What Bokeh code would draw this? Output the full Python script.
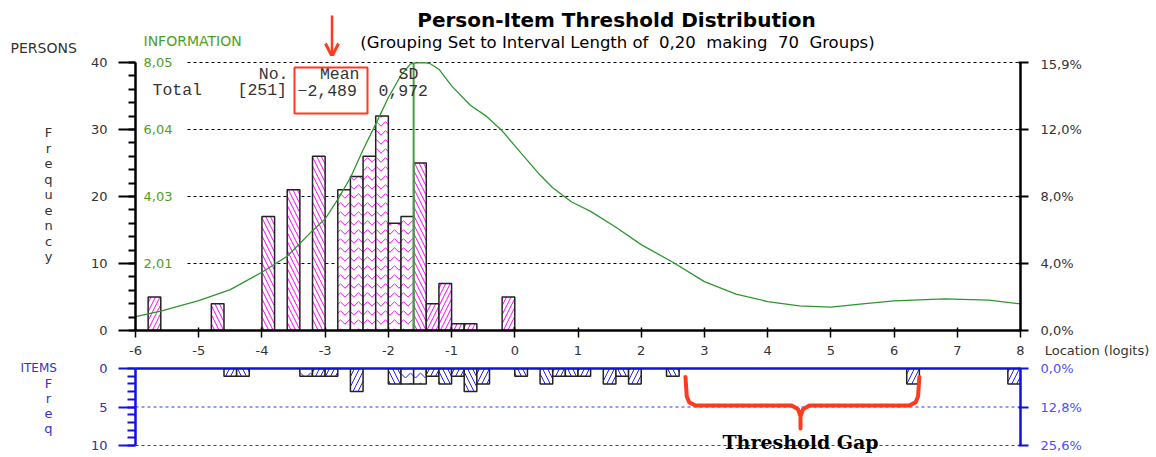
from bokeh.plotting import figure
from bokeh.models import (ColumnDataSource, Range1d, LinearAxis, FixedTicker,
                          BoxAnnotation, Arrow, OpenHead)
from bokeh.layouts import column, row
from bokeh.core.properties import value
from bokeh.embed import file_html
from bokeh.resources import INLINE

# ---------------- data ----------------
interval_length = 0.20
n_groups = 70
x_ticks = list(range(-6, 9))
x_title = "Location (logits)"

person_bin_left = [-5.8, -4.8, -4.0, -3.6, -3.2, -2.8, -2.6, -2.4, -2.2, -2.0,
                   -1.8, -1.6, -1.4, -1.2, -1.0, -0.8, -0.2]
person_counts = [5, 4, 17, 21, 26, 21, 23, 26, 32, 16, 17, 25, 4, 7, 1, 1, 5]
person_mean = -2.489
person_sd = 0.972

item_bin_left = [-4.6, -4.4, -3.4, -3.2, -3.0, -2.6, -2.0, -1.8, -1.6, -1.4,
                 -1.2, -1.0, -0.8, -0.6, 0.0, 0.4, 0.6, 0.8, 1.0, 1.4,
                 1.6, 1.8, 2.4, 6.2, 7.8]
item_counts = [1, 1, 1, 1, 1, 3, 2, 2, 2, 1, 2, 1, 3, 2, 1, 2, 1, 1, 1, 2,
               1, 2, 1, 2, 2]

info_x = [-6.0, -5.6, -5.0, -4.5, -4.0, -3.6, -3.2, -3.0, -2.8, -2.6, -2.4, -2.2,
          -2.0, -1.8, -1.65, -1.55, -1.45, -1.35, -1.2, -1.0, -0.7, -0.45, -0.2,
          0.1, 0.4, 0.6, 0.9, 1.2, 1.6, 2.0, 2.5, 3.0, 3.5, 4.0, 4.5, 5.0, 5.5,
          6.0, 6.8, 7.5, 8.0]
info_y = [0.42, 0.58, 0.90, 1.23, 1.75, 2.23, 3.00, 3.35, 3.94, 4.59, 5.43, 6.20,
          7.00, 7.67, 8.01, 8.04, 8.05, 8.03, 7.85, 7.35, 6.76, 6.44, 6.00,
          5.33, 4.67, 4.29, 3.86, 3.58, 3.10, 2.58, 2.05, 1.47, 1.09, 0.87, 0.74,
          0.70, 0.80, 0.89, 0.95, 0.91, 0.80]
info_max = 8.052
info_peak_location = -1.6

person_ticks = [0, 10, 20, 30, 40]
item_ticks = [0, 5, 10]

# threshold-gap annotation (logits)
gap_left, gap_right = 2.70, 6.40

# ---------------- styles ----------------
person_hatch = ["/", "\\", "\\", "\\", "\\", "v", "v", "v", "v", "v", "v", "\\",
                "/", "/", "/", "/", "/"]
item_hatch = ["/", "\\", "v", "/", "/", "/", "\\", "v", "v", "/", "\\", "/", "\\",
              "/", "\\", "\\", "/", "\\", "/", "/", "\\", "/", "\\", "/", "/"]

FONT = "DejaVu Sans"
MONO = "Liberation Mono"
DARK = "#333333"
GREEN_TXT = "#4f9e22"
GREEN = "#2f962f"
BLUE = "#1010e0"
ITEM_TXT = "#3333cc"
RED = "#ff3b1d"

# ---------------- layout constants (pixels) ----------------
W = 1156
FRAME_L, FRAME_R = 135, 1020
STRIP_W = 70
X_MIN, X_MAX = -6, 8
PX_PER_LOGIT = (FRAME_R - FRAME_L) / (X_MAX - X_MIN)

HEAD_H = 56                    # header band
P1_BASE = 330                  # pixel row of person count 0
PY1 = 6.7                      # px per person count
P1_BOT = 10
XLAB_H = 20
P2_TOP = 8
PY2 = 7.7                      # px per item count
H_TOTAL = 457

P1_H = P1_BASE + P1_BOT - HEAD_H
Y1_MAX = (P1_BASE - HEAD_H) / PY1
XLAB_Y0 = P1_BASE + P1_BOT
P2_Y0 = XLAB_Y0 + XLAB_H
P2_H = H_TOTAL - P2_Y0
Y2_BASE = P2_Y0 + P2_TOP
Y2_MAX = (H_TOTAL - Y2_BASE) / PY2


def lx(px):
    return X_MIN + (px - FRAME_L) / PX_PER_LOGIT


def ly1(py):
    return (P1_BASE - py) / PY1


def ly2(py):
    return (py - Y2_BASE) / PY2


def put_text(f, x, y, txt, size="13px", color=DARK, align="left", font=FONT,
             style="normal"):
    f.text(x=[x], y=[y], text=[txt], text_font=value(font), text_font_size=value(size),
           text_color=color, text_align=align, text_baseline="middle",
           text_font_style=style)


def text_fig(x0, x1, y0, y1):
    f = figure(width=x1 - x0, height=y1 - y0, x_range=Range1d(x0, x1),
               y_range=Range1d(y1, y0), output_backend="svg", toolbar_location=None,
               x_axis_location=None, y_axis_location=None, min_border=0)
    f.outline_line_color = None
    f.grid.visible = False
    return f


def pct(v, total):
    return f"{100.0 * v / total:.1f}%".replace(".", ",")


def comma(v, nd):
    return f"{v:.{nd}f}".replace(".", ",")


n_persons = sum(person_counts)
n_items = sum(item_counts)
NB2 = " \u00a0"   # a visible double space

# ---------------- header band ----------------
head = text_fig(0, W, 0, HEAD_H)
put_text(head, 616, 19, "Person-Item Threshold Distribution", size="20px",
         color="black", align="center", style="bold")
put_text(head, 617, 42,
         f"(Grouping Set to Interval Length of{NB2}{comma(interval_length, 2)}{NB2}making"
         f"{NB2}{n_groups}{NB2}Groups)",
         size="16.5px", color="black", align="center")
put_text(head, 10, 47, "PERSONS", size="14px")
put_text(head, 143, 40, "INFORMATION", size="14px", color=GREEN_TXT)
head.add_layout(Arrow(x_start=331.5, y_start=15, x_end=331.5, y_end=HEAD_H,
                      line_color=RED, line_width=2.5,
                      end=OpenHead(size=13, line_color=RED, line_width=3)))

# ---------------- left strip (Frequency) ----------------
fstrip = text_fig(0, STRIP_W, HEAD_H, XLAB_Y0)
for i, ch in enumerate("Frequency"):
    put_text(fstrip, 48, 132 + i * 15.5, ch, align="center")

# ---------------- persons panel ----------------
p1 = figure(width=W - STRIP_W, height=P1_H, x_range=Range1d(X_MIN, X_MAX),
            y_range=Range1d(0, Y1_MAX), output_backend="svg", toolbar_location=None,
            x_axis_location=None, y_axis_location=None,
            min_border_left=FRAME_L - STRIP_W, min_border_right=W - FRAME_R,
            min_border_top=0, min_border_bottom=P1_BOT)
p1.outline_line_color = None
p1.grid.visible = False

xa = LinearAxis(ticker=FixedTicker(ticks=x_ticks), axis_line_width=2.5, axis_line_color="black",
                major_tick_in=3, major_tick_out=7, major_tick_line_width=1.5,
                minor_tick_line_color=None, major_label_standoff=0,
                major_label_overrides={t: "" for t in x_ticks},
                major_label_text_font_size="1px")
p1.add_layout(xa, "below")

ya = LinearAxis(ticker=FixedTicker(ticks=person_ticks, minor_ticks=list(range(0, 41, 2))),
                bounds=(0, 40), axis_line_width=2.5, axis_line_color="black",
                major_tick_in=0, major_tick_out=17, minor_tick_in=0, minor_tick_out=7,
                major_tick_line_width=2, minor_tick_line_width=2,
                major_label_text_font=FONT, major_label_text_font_size="13px",
                major_label_text_color=DARK, major_label_standoff=11)
p1.add_layout(ya, "left")

yr = LinearAxis(ticker=FixedTicker(ticks=person_ticks), bounds=(0, 40),
                axis_line_width=2.5, axis_line_color="black",
                major_tick_in=2, major_tick_out=8, major_tick_line_width=2,
                minor_tick_line_color=None,
                major_label_overrides={t: pct(t, n_persons) for t in person_ticks},
                major_label_text_font=FONT, major_label_text_font_size="13px",
                major_label_text_color=DARK, major_label_standoff=12)
p1.add_layout(yr, "right")

grid_rows = person_ticks[1:]
p1.segment(x0=[lx(187)] * len(grid_rows), x1=[X_MAX] * len(grid_rows),
           y0=grid_rows, y1=grid_rows, line_color="black", line_width=1, line_dash="3 3")

psrc = ColumnDataSource(dict(left=person_bin_left,
                             right=[v + interval_length for v in person_bin_left],
                             top=person_counts, hatch=person_hatch))
p1.quad(left="left", right="right", bottom=0, top="top", source=psrc,
        fill_color="white", line_color="#222222", line_width=1.5,
        hatch_pattern="hatch", hatch_color="#ff00ff", hatch_scale=9, hatch_weight=1)

p1.extra_y_ranges = {"info": Range1d(0, info_max * Y1_MAX / 40)}
p1.line(info_x, info_y, y_range_name="info", line_color=GREEN, line_width=1.3)
p1.segment(x0=[info_peak_location], y0=[0], x1=[info_peak_location], y1=[40],
           line_color="#3aa53a", line_width=2)

for t in grid_rows:
    put_text(p1, lx(143), t, comma(info_max * t / 40, 2), color=GREEN_TXT)

MS = "16.5px"
put_text(p1, lx(288), ly1(74), "No.", size=MS, font=MONO, align="right")
put_text(p1, lx(359), ly1(74), "Mean", size=MS, font=MONO, align="right")
put_text(p1, lx(398), ly1(74), "SD", size=MS, font=MONO)
put_text(p1, lx(152), ly1(90), "Total", size=MS, font=MONO)
put_text(p1, lx(237), ly1(90), f"[{n_persons}]", size=MS, font=MONO)
put_text(p1, lx(297), ly1(90), comma(person_mean, 3).replace("-", "\u2212"), size=MS, font=MONO)
put_text(p1, lx(378), ly1(90), comma(person_sd, 3), size=MS, font=MONO)

p1.add_layout(BoxAnnotation(left=lx(294), right=lx(367), top=ly1(67), bottom=ly1(113),
                            fill_alpha=0, line_color=RED, line_alpha=1, line_width=2))

# ---------------- x tick label band (axis labels incl. axis title) ----------------
x_title_tick = round(lx(1096.5), 3)
xlab = figure(width=W, height=XLAB_H, x_range=Range1d(X_MIN, lx(W)), y_range=Range1d(0, 1),
              output_backend="svg", toolbar_location=None,
              x_axis_location=None, y_axis_location=None,
              min_border_left=FRAME_L, min_border_right=0,
              min_border_top=0, min_border_bottom=XLAB_H - 1)
xlab.outline_line_color = None
xlab.grid.visible = False
xl_over = {t: f"{t}" for t in x_ticks}
xl_over[x_title_tick] = x_title
xl_axis = LinearAxis(ticker=FixedTicker(ticks=x_ticks + [x_title_tick]), axis_line_color=None,
                     major_tick_line_color=None, minor_tick_line_color=None,
                     major_tick_in=0, major_tick_out=0, major_label_standoff=1,
                     major_label_overrides=xl_over,
                     major_label_text_font=FONT, major_label_text_font_size="13px",
                     major_label_text_color=DARK)
xlab.add_layout(xl_axis, "below")

# ---------------- items panel ----------------
istrip = text_fig(0, STRIP_W, P2_Y0, H_TOTAL)
put_text(istrip, 20, 367, "ITEMS", size="12px", color=ITEM_TXT)
for i, ch in enumerate("Freq"):
    put_text(istrip, 48, 383 + i * 15, ch, color=ITEM_TXT, align="center")

p2 = figure(width=W - STRIP_W, height=P2_H, x_range=p1.x_range, y_range=Range1d(Y2_MAX, 0),
            output_backend="svg", toolbar_location=None,
            x_axis_location=None, y_axis_location=None,
            min_border_left=FRAME_L - STRIP_W, min_border_right=W - FRAME_R,
            min_border_top=P2_TOP, min_border_bottom=0)
p2.outline_line_color = None
p2.grid.visible = False

xa2 = LinearAxis(ticker=FixedTicker(ticks=[]), axis_line_width=2.5, axis_line_color=BLUE,
                 major_tick_line_color=None, minor_tick_line_color=None,
                 major_tick_out=0, major_tick_in=0, major_label_standoff=0,
                 major_label_text_font_size="1px")
p2.add_layout(xa2, "above")

ya2 = LinearAxis(ticker=FixedTicker(ticks=item_ticks, minor_ticks=list(range(0, 11))),
                 bounds=(0, 10), axis_line_width=2.5, axis_line_color=BLUE,
                 major_tick_in=0, major_tick_out=17, minor_tick_in=0, minor_tick_out=8,
                 major_tick_line_width=2, minor_tick_line_width=2,
                 major_tick_line_color=BLUE, minor_tick_line_color=BLUE,
                 major_label_text_font=FONT, major_label_text_font_size="13px",
                 major_label_text_color="#333399", major_label_standoff=11)
p2.add_layout(ya2, "left")

yr2 = LinearAxis(ticker=FixedTicker(ticks=item_ticks), bounds=(0, 10),
                 axis_line_width=2.5, axis_line_color=BLUE,
                 major_tick_in=2, major_tick_out=8, major_tick_line_width=2,
                 major_tick_line_color=BLUE, minor_tick_line_color=None,
                 major_label_overrides={t: pct(t, n_items) for t in item_ticks},
                 major_label_text_font=FONT, major_label_text_font_size="13px",
                 major_label_text_color="#4d4dff", major_label_standoff=12)
p2.add_layout(yr2, "right")

irows = item_ticks[1:]
p2.segment(x0=[X_MIN] * len(irows), x1=[X_MAX] * len(irows), y0=irows, y1=irows,
           line_color="#3333ff", line_width=1, line_dash="3 3")

isrc = ColumnDataSource(dict(left=item_bin_left,
                             right=[v + interval_length for v in item_bin_left],
                             top=item_counts, hatch=item_hatch))
p2.quad(left="left", right="right", bottom=0, top="top", source=isrc,
        fill_color="white", line_color="#222222", line_width=1.5,
        hatch_pattern="hatch", hatch_color="#2020ff", hatch_scale=10, hatch_weight=1)

bc = (gap_left + gap_right) / 2 - 0.03
top_, mid, tip = 1.1, 4.8, 7.8
brace_x = [gap_left, gap_left + 0.02, gap_left + 0.06, gap_left + 0.16, bc - 0.14, bc - 0.04,
           bc, bc, bc, bc + 0.04, bc + 0.14, gap_right - 0.16, gap_right - 0.06,
           gap_right - 0.02, gap_right]
brace_y = [top_, 3.6, 4.4, mid, mid, mid + 0.5, mid + 1.4, tip, mid + 1.4, mid + 0.5,
           mid, mid, 4.4, 3.6, top_]
p2.line(brace_x, brace_y, line_color=RED, line_width=4, line_join="round", line_cap="round")
put_text(p2, bc, ly2(441), "Threshold Gap", size="19px", color="black", align="center",
         font="DejaVu Serif", style="bold")

# text strips wrapped in their own columns so that rows do not align their frames
layout = column(row(head),
                row(column(fstrip), p1),
                row(xlab),
                row(column(istrip), p2))
open("out.html", "w").write(
    file_html(layout, INLINE).replace("<head>", "<head><style>body{margin:0;padding:0;}</style>", 1))
